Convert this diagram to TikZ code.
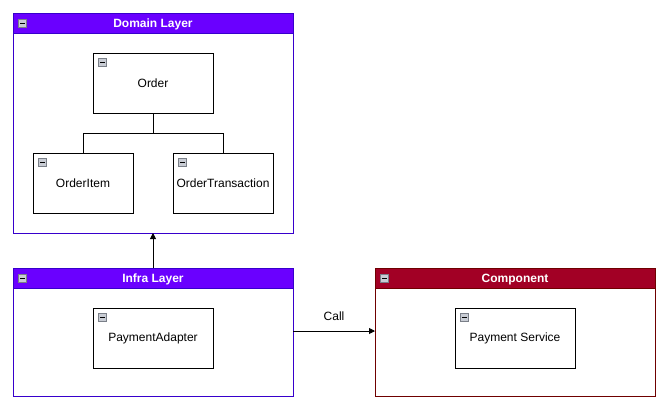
\documentclass[tikz,border=0pt]{standalone}
\usepackage{fontspec}
\setmainfont{Liberation Sans}
\usetikzlibrary{arrows.meta}
\definecolor{dompurple}{HTML}{6A00FF}
\definecolor{domborder}{HTML}{3700CC}
\definecolor{compred}{HTML}{A20025}
\definecolor{compborder}{HTML}{6F0000}
\definecolor{icongray}{HTML}{C8CCD4}
\definecolor{iconborder}{HTML}{7A7F88}
\tikzset{
  x=1pt, y=-1pt,
  boxlabel/.style={font=\fontsize{12}{14}\selectfont, text=black},
  headlabel/.style={font=\fontsize{12}{14}\selectfont\bfseries, text=white, anchor=base, inner sep=0pt},
  inner/.style={draw=black, line width=0.9pt, fill=white},
  icon/.style={draw=iconborder, fill=icongray, line width=0.6pt, minimum size=8pt, inner sep=0pt},
  conn/.style={draw=black, line width=0.9pt},
  arr/.style={conn, -{Triangle[length=6pt,width=6pt]}},
}
\newcommand{\mkicon}[2]{%
  \node[icon] (#1) at (#2) {};
  \draw[black, line width=0.9pt] ([xshift=1.8pt]#1.west) -- ([xshift=-1.8pt]#1.east);
}
\begin{document}
\begin{tikzpicture}
\useasboundingbox[fill=white] (0,0) rectangle (670,408);

% Domain layer
\draw[domborder, line width=0.9pt, fill=white] (13,13) rectangle (293,233);
\draw[domborder, line width=0.9pt, fill=dompurple] (13,13) rectangle (293,33);
\coordinate (domtop) at (153,13);
\coordinate (dombot) at (153,233);
\node[headlabel] (domlabel) at (153,27.5) {Domain Layer};
\mkicon{domicon}{22.5,23}

\draw[inner] (93,53) rectangle (213,113);
\node[boxlabel] (order) at (153,83) {Order};
\mkicon{ordericon}{102.5,62.5}
\coordinate (orderbot) at (153,113);

\draw[inner] (33,153) rectangle (133,213);
\node[boxlabel] (item) at (83,183) {OrderItem};
\mkicon{itemicon}{42.5,162.5}
\coordinate (itemtop) at (83,153);

\draw[inner] (173,153) rectangle (273,213);
\node[boxlabel] (trans) at (223,183) {OrderTransaction};
\mkicon{transicon}{182.5,162.5}
\coordinate (transtop) at (223,153);

\draw[conn] (orderbot) -- (153,133) -| (itemtop);
\draw[conn] (153,133) -| (transtop);

% Infra layer
\draw[domborder, line width=0.9pt, fill=white] (13,268) rectangle (293,396);
\draw[domborder, line width=0.9pt, fill=dompurple] (13,268) rectangle (293,288);
\coordinate (infratop) at (153,268);
\coordinate (infraright) at (293,331);
\node[headlabel] (infralabel) at (153,282.5) {Infra Layer};
\mkicon{infraicon}{22.5,278}

\draw[inner] (93,308) rectangle (213,368);
\node[boxlabel] (adapter) at (153,338) {PaymentAdapter};
\mkicon{adaptericon}{102.5,317.5}

% Component
\draw[compborder, line width=0.9pt, fill=white] (375,268) rectangle (655,396);
\draw[compborder, line width=0.9pt, fill=compred] (375,268) rectangle (655,288);
\coordinate (compleft) at (375,331);
\node[headlabel] (complabel) at (515,282.5) {Component};
\mkicon{compicon}{384.5,278}

\draw[inner] (455,308) rectangle (575,368);
\node[boxlabel] (service) at (515,338) {Payment Service};
\mkicon{serviceicon}{464.5,317.5}

% connectors
\draw[arr] (infratop) -- (dombot);
\draw[arr] (infraright) -- node[boxlabel, above=7pt] (call) {Call} (compleft);
\end{tikzpicture}
\end{document}
